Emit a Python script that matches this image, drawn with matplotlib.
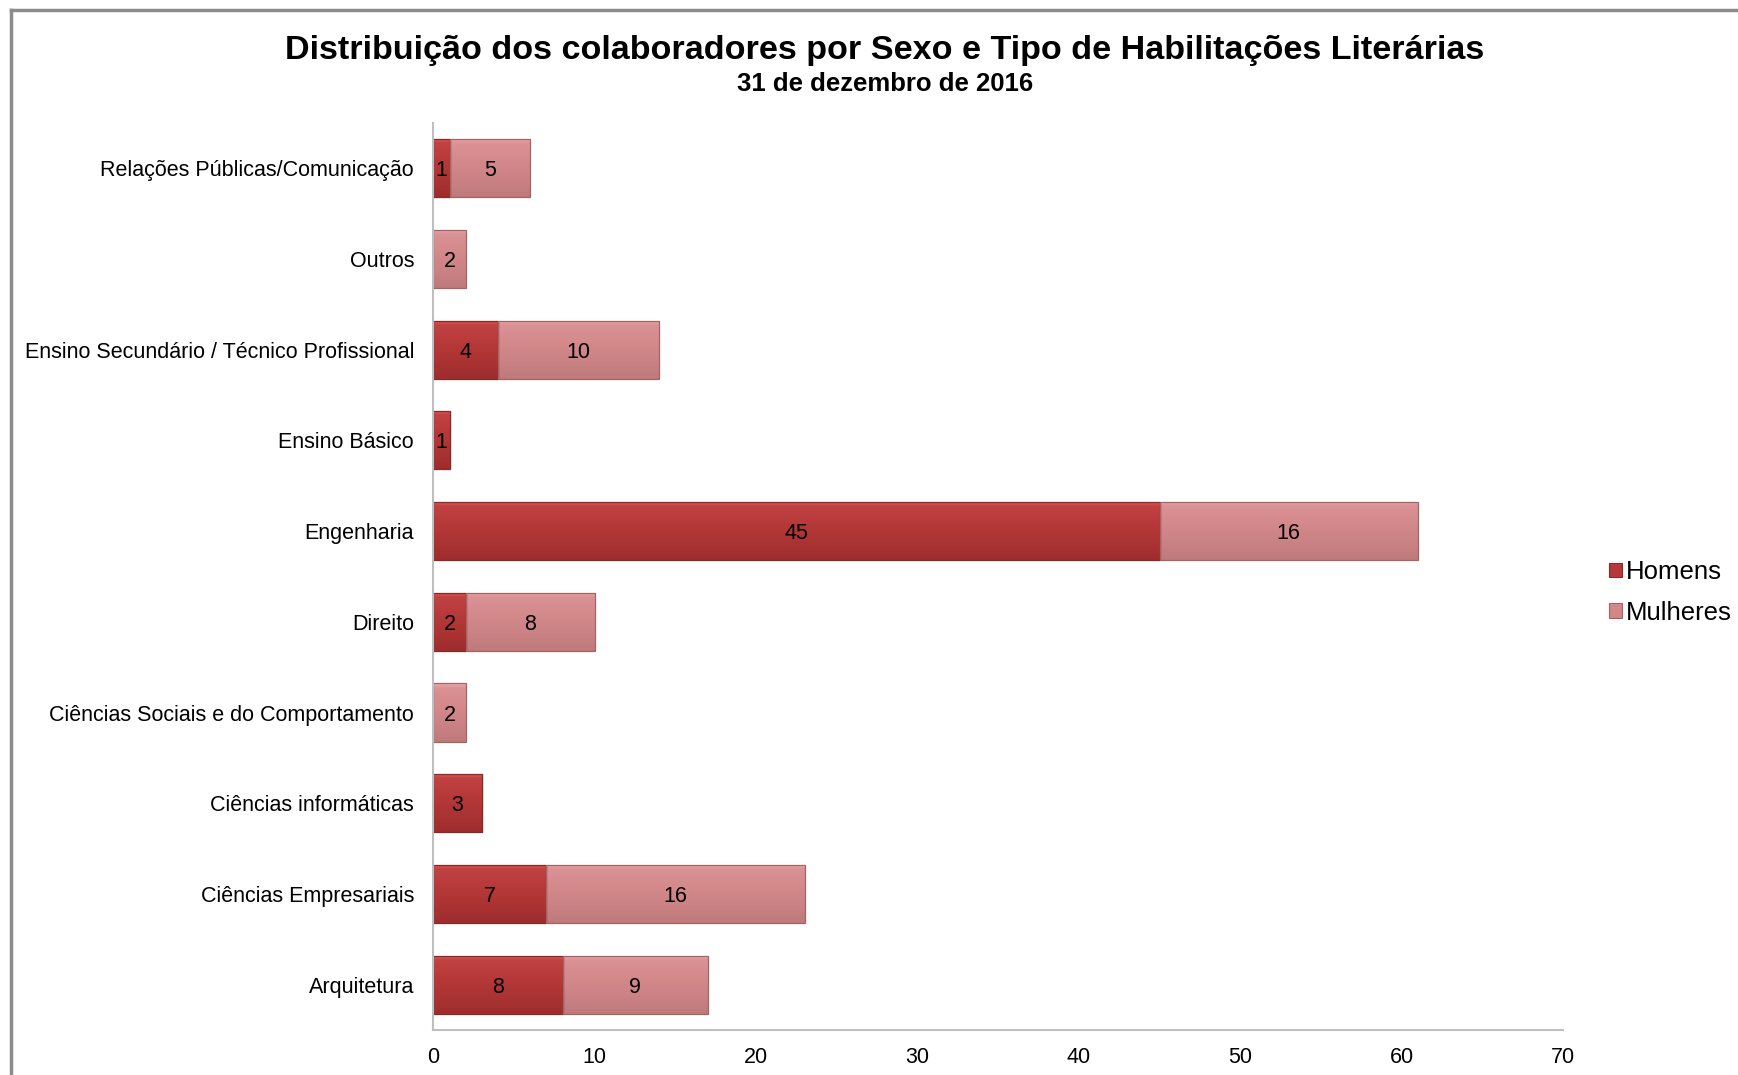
import matplotlib
matplotlib.use("Agg")
import matplotlib.pyplot as plt
import numpy as np
from matplotlib.lines import Line2D
from matplotlib.patches import Rectangle
from matplotlib.colors import LinearSegmentedColormap

plt.rcParams['font.family'] = ['Liberation Sans', 'DejaVu Sans']

categories = ["Arquitetura", "Ciências Empresariais", "Ciências informáticas",
              "Ciências Sociais e do Comportamento", "Direito", "Engenharia",
              "Ensino Básico", "Ensino Secundário / Técnico Profissional",
              "Outros", "Relações Públicas/Comunicação"]
homens = [8, 7, 3, 0, 2, 45, 1, 4, 0, 1]
mulheres = [9, 16, 0, 2, 8, 16, 0, 10, 2, 5]
series_names = ["Homens", "Mulheres"]
xticks = [0, 10, 20, 30, 40, 50, 60, 70]

title = "Distribuição dos colaboradores por Sexo e Tipo de Habilitações Literárias"
subtitle = "31 de dezembro de 2016"

c_h = "#B5393A"
c_m = "#D48688"
grad_h = ["#9E2D2D", "#AB3333", "#B83A3A", "#C24242", "#E36262"]
grad_m = ["#BF7A7B", "#CB8284", "#D58A8C", "#DB9294", "#EFADAE"]

fig = plt.figure(figsize=(17.38, 10.75), dpi=100)
ax = fig.add_axes([0.2494, 0.0419, 0.6499, 0.8437])

y = list(range(len(categories)))
bh = ax.barh(y, homens, height=0.64, color=c_h, edgecolor="#8A2828", linewidth=0.9)
bm = ax.barh(y, mulheres, left=homens, height=0.64, color=c_m, edgecolor="#A26466", linewidth=0.9)

grad = np.linspace(0, 1, 256).reshape(-1, 1)
for bars, cols in ((bh, grad_h), (bm, grad_m)):
    cmap = LinearSegmentedColormap.from_list("g", list(zip([0, 0.3, 0.65, 0.92, 1.0], cols)))
    for b in bars:
        w = b.get_width()
        if w <= 0:
            continue
        x0, y0, h = b.get_x(), b.get_y(), b.get_height()
        im = ax.imshow(grad, cmap=cmap, aspect="auto", origin="lower",
                       extent=(x0, x0 + w, y0, y0 + h), zorder=2,
                       interpolation="bilinear")
        im.set_clip_path(b)
        b.set_facecolor("none")
        b.set_zorder(3)

for bars, vals in ((bh, homens), (bm, mulheres)):
    for b, v in zip(bars, vals):
        if v > 0:
            ax.text(b.get_x() + b.get_width() / 2, b.get_y() + b.get_height() / 2,
                    str(v), ha="center", va="center_baseline", fontsize=15.5, color="black", zorder=5)

ax.set_xlim(0, 70)
ax.set_ylim(-0.5, len(categories) - 0.5)
ax.set_xticks(xticks)
ax.set_xticklabels([str(t) for t in xticks], fontsize=15.5)
ax.set_yticks(y)
ax.set_yticklabels(categories, fontsize=15.5)
ax.tick_params(axis="both", length=0)
ax.tick_params(axis="x", pad=12)
ax.tick_params(axis="y", pad=14)
for s in ("top", "right"):
    ax.spines[s].set_visible(False)
for s in ("left", "bottom"):
    ax.spines[s].set_color("#BFBFBF")
    ax.spines[s].set_linewidth(1.5)
    ax.spines[s].set_zorder(6)

fig.text(0.509, 0.953, title, ha="center", va="center", fontsize=24.6, fontweight="bold")
fig.text(0.509, 0.922, subtitle, ha="center", va="center", fontsize=18.5, fontweight="bold")

handles = [Rectangle((0, 0), 1, 1, facecolor=c_h, edgecolor="#8A2828", linewidth=0.8),
           Rectangle((0, 0), 1, 1, facecolor=c_m, edgecolor="#A26466", linewidth=0.8)]
leg = fig.legend(handles=handles, labels=series_names, loc="center left",
                 bbox_to_anchor=(0.926, 0.449), frameon=False, fontsize=18.5,
                 handlelength=0.5, handleheight=0.5, handletextpad=0.15, labelspacing=0.65,
                 borderpad=0, borderaxespad=0)

fig.add_artist(Line2D([11 / 1738, 11 / 1738], [0, 1 - 10 / 1075], transform=fig.transFigure,
                      color="#8C8C8C", linewidth=2.5))
fig.add_artist(Line2D([11 / 1738, 1], [1 - 10 / 1075, 1 - 10 / 1075], transform=fig.transFigure,
                      color="#8C8C8C", linewidth=2.5))

fig.savefig("out.png", dpi=100)
